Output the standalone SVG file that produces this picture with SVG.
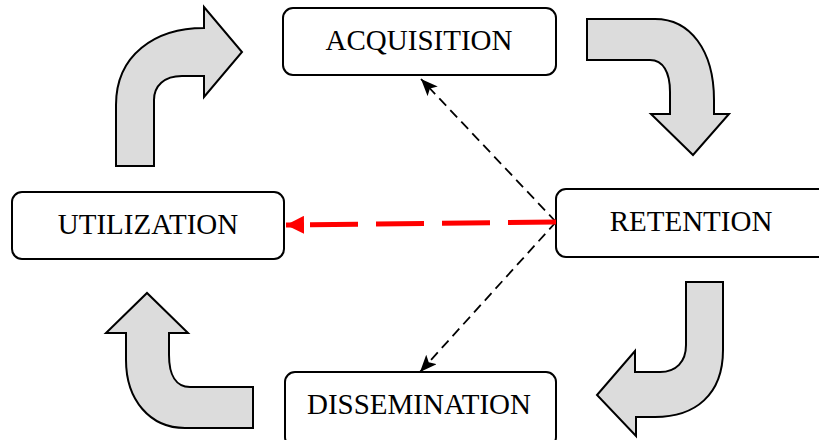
<svg xmlns="http://www.w3.org/2000/svg" width="819" height="440" viewBox="0 0 819 440">
<style>
.box{fill:#fff;stroke:#000;stroke-width:2}
.lbl{font-family:"Liberation Serif","Times New Roman",serif;font-size:29px;fill:#000;text-anchor:middle}
.blk{fill:#dcdcdc;stroke:#000;stroke-width:2;stroke-linejoin:miter}
.dash{fill:none;stroke:#000;stroke-width:1.8;stroke-dasharray:10 6}
.red{fill:none;stroke:#f00;stroke-width:5;stroke-dasharray:48 18}
</style>
<defs>
<marker id="ah" markerWidth="18" markerHeight="14" refX="17" refY="7" orient="auto" markerUnits="userSpaceOnUse">
<path d="M0,0 L17,7 L0,14 L4,7 Z" fill="#000"/>
</marker>
<marker id="rh" markerWidth="18" markerHeight="18" refX="18" refY="9" orient="auto" markerUnits="userSpaceOnUse">
<path d="M0,0 L18,9 L0,18 Z" fill="#f00"/>
</marker>
</defs>
<g id="arrow-ul"><path class="blk" d="M116,166 V105 C116,55 155,28 204,28 V7 L242,52 L204,97 V76 H182 C164,76 154,86 154,100 V166 Z"/></g>
<g id="arrow-ur"><path class="blk" d="M587,19 H655 C690,19 714,50 714,100 V114 H729 L693,155 L651,114 H670 V92 C670,72 663,60 650,60 H587 Z"/></g>
<g id="arrow-lr"><path class="blk" d="M686,282 H723 V350 C723,395 695,417 655,417 H636 V436 L597,395 L635,351 V372 H660 C676,372 686,362 686,345 Z"/></g>
<g id="arrow-ll"><path class="blk" d="M253,387 V428 H185 C150,428 126,400 126,360 V333 H106 L147,293 L188,333 H169 V355 C169,375 176,387 190,387 Z"/></g>
<g id="acquisition"><rect class="box" x="283" y="8" width="273" height="67" rx="10"/><text class="lbl" x="419" y="50">ACQUISITION</text></g>
<g id="retention"><rect class="box" x="556" y="189" width="275" height="68" rx="10"/><text class="lbl" x="691" y="231">RETENTION</text></g>
<g id="utilization"><rect class="box" x="12" y="192" width="272" height="67" rx="10"/><text class="lbl" x="148" y="234">UTILIZATION</text></g>
<g id="dissemination"><rect class="box" x="285" y="372" width="271" height="75" rx="10"/><text class="lbl" x="419" y="414">DISSEMINATION</text></g>
<g id="connectors">
<line class="dash" x1="556" y1="222" x2="421" y2="79" marker-end="url(#ah)"/>
<line class="dash" x1="556" y1="222" x2="420" y2="372" marker-end="url(#ah)"/>
<line class="red" x1="556" y1="222" x2="286" y2="225" marker-end="url(#rh)"/>
</g>
</svg>
